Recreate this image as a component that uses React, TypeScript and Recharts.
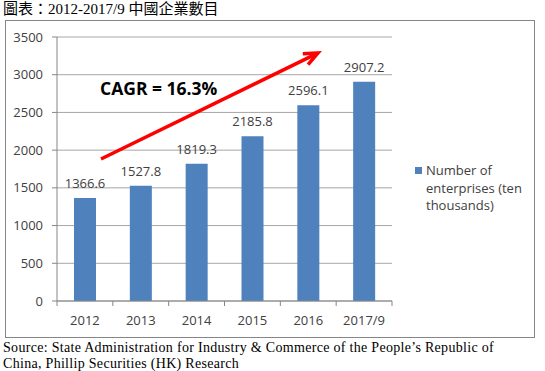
import { BarChart, Bar, XAxis, YAxis, CartesianGrid, Legend, LabelList } from 'recharts';

const years = ['2012', '2013', '2014', '2015', '2016', '2017/9'];
const enterprises = [1366.6, 1527.8, 1819.3, 2185.8, 2596.1, 2907.2];
const yTicks = [0, 500, 1000, 1500, 2000, 2500, 3000, 3500];

const data = years.map((year, i) => ({ year, value: enterprises[i] }));

const W = 545;
const H = 371;
const PLOT_LEFT = 57;
const PLOT_RIGHT = 392;
const STEP = (PLOT_RIGHT - PLOT_LEFT) / years.length;
const TEXT = '#404040';
const AXIS = '#868686';
const SANS = '"Open Sans", "Noto Sans", sans-serif';
const SERIF = '"Times New Roman", "Liberation Serif", "Noto Sans CJK TC", serif';

const YearTick = (props: any) => {
  const { x, y, payload, index } = props;
  return (
    <g>
      <line x1={x - STEP / 2} x2={x - STEP / 2} y1={y} y2={y + 5} stroke={AXIS} />
      {index === years.length - 1 && (
        <line x1={x + STEP / 2} x2={x + STEP / 2} y1={y} y2={y + 5} stroke={AXIS} />
      )}
      <text x={x} y={y + 24} textAnchor="middle" fill={TEXT} fontSize={13} fontFamily={SANS}>
        {payload.value}
      </text>
    </g>
  );
};

const LegendBox = ({ payload }: any) => (
  <div style={{ position: 'relative', fontFamily: SANS, fontSize: 13, lineHeight: '17.5px', color: TEXT }}>
    {(payload || []).map((p: any) => (
      <div key={p.value} style={{ position: 'relative', paddingLeft: 11, width: 106 }}>
        <span
          style={{ position: 'absolute', left: 0, top: 5, width: 7, height: 7, background: p.color }}
        />
        {p.value}
      </div>
    ))}
  </div>
);

// arrow tip and tail for the CAGR annotation
const tail = { x: 101, y: 159 };
const tip = { x: 318, y: 53 };
const len = Math.hypot(tip.x - tail.x, tip.y - tail.y);
const ux = (tip.x - tail.x) / len;
const uy = (tip.y - tail.y) / len;
const head = (side: number) =>
  `${tip.x - 14 * ux + side * 6 * -uy},${tip.y - 14 * uy + side * 6 * ux}`;

export default function App() {
  return (
    <div style={{ position: 'absolute', left: 0, top: 0, width: W, height: H, background: '#fff' }}>
      <div
        style={{
          position: 'absolute',
          left: 3,
          top: 1,
          fontFamily: SERIF,
          fontSize: 15,
          lineHeight: '17px',
          whiteSpace: 'pre',
          color: '#000',
        }}
      >
        圖表：2012-2017/9 中國企業數目
      </div>
      <div
        style={{
          position: 'absolute',
          left: 5,
          top: 20,
          width: 528,
          height: 316,
          border: `1px solid ${AXIS}`,
        }}
      />
      <div style={{ position: 'absolute', left: 0, top: 0 }}>
        <BarChart
          width={W}
          height={H}
          data={data}
          margin={{ top: 37, right: W - PLOT_RIGHT, left: 0, bottom: 40 }}
        >
          <CartesianGrid vertical={false} stroke="#a6a6a6" />
          <XAxis
            dataKey="year"
            height={30}
            stroke={AXIS}
            tickLine={false}
            tickSize={0}
            tickMargin={0}
            tick={<YearTick />}
            interval={0}
          />
          <YAxis
            width={PLOT_LEFT}
            domain={[0, 3500]}
            ticks={yTicks}
            stroke={AXIS}
            tickSize={5}
            tickMargin={9}
            tick={{ fill: TEXT, fontSize: 13, fontFamily: SANS }}
          />
          <Legend
            layout="horizontal"
            align="center"
            verticalAlign="middle"
            wrapperStyle={{ left: 415, top: 162, width: 120 }}
            content={<LegendBox />}
          />
          <Bar
            dataKey="value"
            name="Number of enterprises (ten thousands)"
            fill="#4f81bd"
            barSize={22}
            isAnimationActive={false}
          >
            <LabelList
              dataKey="value"
              position="top"
              offset={10}
              fill={TEXT}
              fontSize={13}
              fontFamily={SANS}
              formatter={(v: any) => Number(v).toFixed(1)}
            />
          </Bar>
        </BarChart>
      </div>
      <svg
        width={W}
        height={H}
        style={{ position: 'absolute', left: 0, top: 0, pointerEvents: 'none' }}
      >
        <line
          x1={tail.x}
          y1={tail.y}
          x2={tip.x - 2 * ux}
          y2={tip.y - 2 * uy}
          stroke="#ff0000"
          strokeWidth={3.5}
        />
        <polyline
          points={`${head(1)} ${tip.x},${tip.y} ${head(-1)}`}
          fill="none"
          stroke="#ff0000"
          strokeWidth={3.5}
          strokeLinejoin="miter"
        />
        <text x={100} y={95} fontFamily={SANS} fontWeight="bold" fontSize={17.5} fill="#000">
          CAGR = 16.3%
        </text>
      </svg>
      <div
        style={{
          position: 'absolute',
          left: 3,
          top: 340,
          fontFamily: SERIF,
          fontSize: 14,
          lineHeight: '16px',
          letterSpacing: '0.3px',
          whiteSpace: 'nowrap',
          color: '#000',
        }}
      >
        Source: State Administration for Industry &amp; Commerce of the People’s Republic of
        <br />
        China, Phillip Securities (HK) Research
      </div>
    </div>
  );
}
